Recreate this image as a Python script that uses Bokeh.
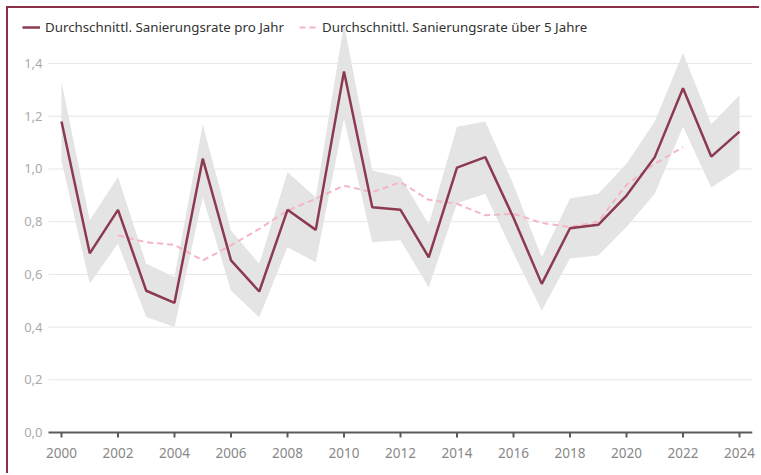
from bokeh.plotting import figure
from bokeh.models import Range1d, FixedTicker, Legend, LegendItem
from bokeh.embed import file_html
from bokeh.resources import INLINE

years = list(range(2000, 2025))
rate = [1.18, 0.68, 0.845, 0.538, 0.492, 1.039, 0.653, 0.535, 0.845, 0.769, 1.37,
        0.855, 0.845, 0.665, 1.005, 1.045, 0.815, 0.564, 0.775, 0.788, 0.899, 1.045,
        1.306, 1.047, 1.142]
upper = [1.33, 0.805, 0.97, 0.64, 0.59, 1.17, 0.767, 0.64, 0.988, 0.893, 1.55,
         0.994, 0.97, 0.79, 1.16, 1.18, 0.94, 0.665, 0.888, 0.906, 1.02, 1.18,
         1.44, 1.17, 1.28]
lower = [1.03, 0.565, 0.717, 0.438, 0.40, 0.893, 0.539, 0.437, 0.703, 0.646, 1.19,
         0.722, 0.73, 0.55, 0.87, 0.906, 0.68, 0.463, 0.66, 0.672, 0.78, 0.906,
         1.16, 0.93, 1.00]
avg_years = list(range(2002, 2023))
avg5 = [0.748, 0.722, 0.712, 0.653, 0.71, 0.773, 0.842, 0.887, 0.937, 0.912, 0.95,
        0.883, 0.868, 0.824, 0.83, 0.795, 0.78, 0.80, 0.94, 1.02, 1.083]
x_ticks = list(range(2000, 2025, 2))
y_ticks = [0.0, 0.2, 0.4, 0.6, 0.8, 1.0, 1.2, 1.4]
y_tick_labels = ["0,0", "0,2", "0,4", "0,6", "0,8", "1,0", "1,2", "1,4"]
label_year = "Durchschnittl. Sanierungsrate pro Jahr"
label_avg = "Durchschnittl. Sanierungsrate über 5 Jahre"

FONT = "Noto Sans"
MAROON = "#8c3a50"
X_START, X_END = 1998.124, 2024.46     # full frame (room for y labels and legend)
GRID_START = 1999.54                    # where gridlines and the x-axis line begin
Y_START, Y_END = -0.0493, 1.609
TICK_LEN = 0.019                        # ~5px tick below the baseline

p = figure(width=753, height=467, output_backend="svg", toolbar_location=None,
           x_range=Range1d(X_START, X_END), y_range=Range1d(Y_START, Y_END),
           min_border_left=0, min_border_right=9, min_border_top=0, min_border_bottom=30)
p.styles = {"border-top": "2px solid #8b3046", "border-left": "2px solid #8b3046",
            "margin-top": "6px", "margin-left": "6px"}
p.outline_line_color = None
p.background_fill_color = "white"
p.yaxis.visible = False
p.xgrid.grid_line_color = None
p.ygrid.grid_line_color = None

# horizontal gridlines and y labels
grid_y = y_ticks[1:]
p.segment(x0=[GRID_START] * len(grid_y), x1=[X_END] * len(grid_y), y0=grid_y, y1=grid_y,
          line_color="#e6e6e6", line_width=1)
p.text(x=[GRID_START] * len(y_ticks), y=y_ticks, text=y_tick_labels, x_offset=-6,
       text_align="right", text_baseline="middle", text_color="#ababab",
       text_font={"value": FONT}, text_font_size="13px")

p.varea(x=years, y1=lower, y2=upper, fill_color="#e4e4e4", fill_alpha=1.0)
r_avg = p.line(avg_years, avg5, line_color="#f4b6c5", line_width=2, line_dash="6 4")
r_rate = p.line(years, rate, line_color=MAROON, line_width=2.5)

# x-axis baseline and ticks
p.segment(x0=[GRID_START], x1=[X_END], y0=[0], y1=[0], line_color="#5a5a5a", line_width=2)
p.segment(x0=x_ticks, x1=x_ticks, y0=[0] * len(x_ticks), y1=[-TICK_LEN] * len(x_ticks),
          line_color="#5a5a5a", line_width=2)

p.xaxis.ticker = FixedTicker(ticks=x_ticks)
p.xaxis.axis_line_color = None
p.xaxis.major_tick_line_color = None
p.xaxis.major_tick_out = 0
p.xaxis.major_tick_in = 0
p.xaxis.minor_tick_line_color = None
p.xaxis.major_label_standoff = 2
p.xaxis.major_label_text_color = "#888888"
p.xaxis.major_label_text_font = FONT
p.xaxis.major_label_text_font_size = "13.5px"

legend = Legend(items=[LegendItem(label=label_year, renderers=[r_rate]),
                       LegendItem(label=label_avg, renderers=[r_avg])],
                location=(14, 408), orientation="horizontal")
legend.border_line_color = None
legend.background_fill_alpha = 0
legend.padding = 0
legend.margin = 0
legend.spacing = 15
legend.glyph_width = 18
legend.glyph_height = 20
legend.label_height = 20
legend.label_standoff = 5
legend.label_text_font = FONT
legend.label_text_font_size = "13.3px"
legend.label_text_color = "#333333"
p.add_layout(legend)

open("out.html", "w").write(file_html(p, INLINE))
